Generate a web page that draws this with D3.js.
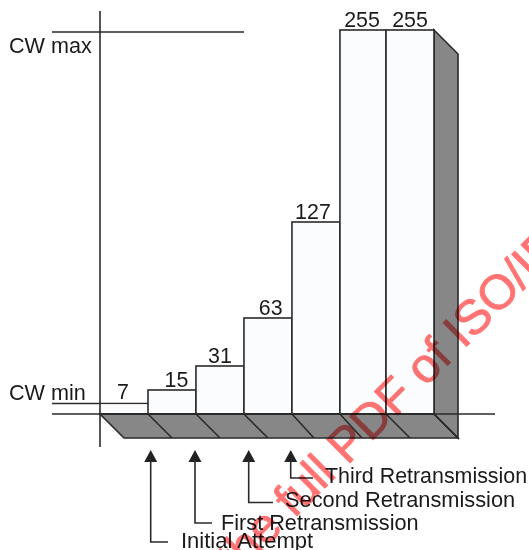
<!DOCTYPE html>
<html>
<head>
<meta charset="utf-8">
<script src="https://cdn.jsdelivr.net/npm/d3@7"></script>
<style>
html, body { margin: 0; padding: 0; background: #fff; }
text { font-family: "Liberation Sans", Arial, sans-serif; fill: #1a1a1a; }
</style>
</head>
<body>
<div id="chart"></div>
<script>
// Données
const attempts = [0, 1, 2, 3, 4, 5, 6];
const cwValues = [7, 15, 31, 63, 127, 255, 255];
const barUnits = [1, 1, 1, 1, 1, 0.96, 1];
const slantDepth = [24, 24, 24, 22, 22, 24, 24];
const valueShift = [-1, 4.5, 0, 2.7, -3, -1, 0];
const cwLevels = [{ label: "CW max", value: 255 }, { label: "CW min", value: 7 }];
const arrowLabels = ["Initial Attempt", "First Retransmission", "Second Retransmission", "Third Retransmission"];
const watermark = "the full PDF of ISO/IEC";

const width = 529, height = 550;
const depth = 24;
const dark = "#2a2a2a", grey = "#878787", barFill = "#fbfcfe";
const lineW = 1.6;

const svg = d3.select("#chart").append("svg")
    .attr("width", width)
    .attr("height", height)
    .style("display", "block");

// Bords des barres à partir des largeurs cumulées
const edges = d3.cumsum(barUnits);
const x = d3.scaleLinear().domain([0, edges[edges.length - 1]]).range([100, 434]);
const left = d => d === 0 ? x(0) : x(edges[d - 1]);
const rightOf = d => x(edges[d]);
const y = d3.scaleLinear().domain([-1, 255]).range([414, 30]);
const y0 = y(-1);
const right = x.range()[1];

// Plancher et côté en relief
svg.append("path")
    .attr("d", `M${x(0)},${y0}L${right},${y0}L${right + depth},${y0 + depth}L${x(0) + depth},${y0 + depth}Z`)
    .attr("fill", grey).attr("stroke", dark).attr("stroke-width", lineW);
svg.append("path")
    .attr("d", `M${right},${y(255)}L${right + depth},${y(255) + depth}L${right + depth},${y0 + depth}L${right},${y0}Z`)
    .attr("fill", grey).attr("stroke", dark).attr("stroke-width", lineW);

svg.selectAll(".slant")
    .data(attempts)
    .enter().append("line")
    .attr("x1", d => rightOf(d))
    .attr("x2", d => rightOf(d) + slantDepth[d])
    .attr("y1", y0)
    .attr("y2", y0 + depth)
    .attr("stroke", dark).attr("stroke-width", lineW);

// Lignes de repère CW min / CW max
svg.append("line").attr("x1", 52).attr("x2", 244).attr("y1", y(255) + 2).attr("y2", y(255) + 2)
    .attr("stroke", dark).attr("stroke-width", lineW);
svg.append("line").attr("x1", 52).attr("x2", rightOf(0)).attr("y1", y(7) + 1.5).attr("y2", y(7) + 1.5)
    .attr("stroke", dark).attr("stroke-width", lineW);
svg.append("line").attr("x1", 52).attr("x2", 495).attr("y1", y0).attr("y2", y0)
    .attr("stroke", dark).attr("stroke-width", lineW);

// Barres
svg.selectAll(".bar")
    .data(attempts.slice(1))
    .enter().append("rect")
    .attr("x", d => left(d))
    .attr("y", d => y(cwValues[d]))
    .attr("width", d => rightOf(d) - left(d))
    .attr("height", d => y0 - y(cwValues[d]))
    .attr("fill", barFill).attr("stroke", dark).attr("stroke-width", lineW);

// La première barre n'a pas de contour en haut à gauche
svg.append("rect")
    .attr("x", left(0))
    .attr("y", y(7) + 2.3)
    .attr("width", rightOf(0) - left(0) - 1)
    .attr("height", y0 - y(7) - 3.3)
    .attr("fill", barFill);

svg.append("line").attr("x1", x(0)).attr("x2", right).attr("y1", y0).attr("y2", y0)
    .attr("stroke", dark).attr("stroke-width", 2.2);

// Axe vertical
svg.append("line").attr("x1", 100).attr("x2", 100).attr("y1", 11).attr("y2", 447)
    .attr("stroke", dark).attr("stroke-width", lineW);

// Valeurs au-dessus des barres
svg.selectAll(".val")
    .data(attempts)
    .enter().append("text")
    .attr("x", d => (left(d) + rightOf(d)) / 2 + valueShift[d])
    .attr("y", d => y(cwValues[d]) - 3.3)
    .attr("text-anchor", "middle")
    .attr("font-size", 21.4)
    .text(d => cwValues[d]);

svg.selectAll(".level")
    .data(cwLevels)
    .enter().append("text")
    .attr("x", 9)
    .attr("y", (d, i) => i === 0 ? 53 : 400)
    .attr("font-size", 21.6)
    .text(d => d.label);

// Flèches et légendes
const arrowX = [150.7, 195, 248.7, 290.7];
const labelX = [181, 221, 285, 325];
const labelY = [548, 530, 507, 482.5];
const labelSize = [22, 21.7, 21.8, 21.4];
const elbowY = [542, 523, 502.5, 478];
const elbowEnd = [168, 212, 273, 313];

arrowLabels.forEach(function(label, i) {
    svg.append("path")
        .attr("d", `M${arrowX[i]},450L${arrowX[i] + 6.5},462L${arrowX[i] - 6.5},462Z`)
        .attr("fill", "#222");
    svg.append("path")
        .attr("d", `M${arrowX[i]},460V${elbowY[i]}H${elbowEnd[i]}`)
        .attr("fill", "none").attr("stroke", dark).attr("stroke-width", lineW);
    svg.append("text")
        .attr("x", labelX[i])
        .attr("y", labelY[i])
        .attr("font-size", labelSize[i])
        .text(label);
});

// Filigrane
svg.append("text")
    .attr("transform", "translate(236.7,576.3) rotate(-45)")
    .attr("font-size", 48.5)
    .style("fill", "#f00")
    .style("stroke", "#f00")
    .style("stroke-width", 0.9)
    .style("opacity", 0.55)
    .style("mix-blend-mode", "multiply")
    .text(watermark);
</script>
</body>
</html>
